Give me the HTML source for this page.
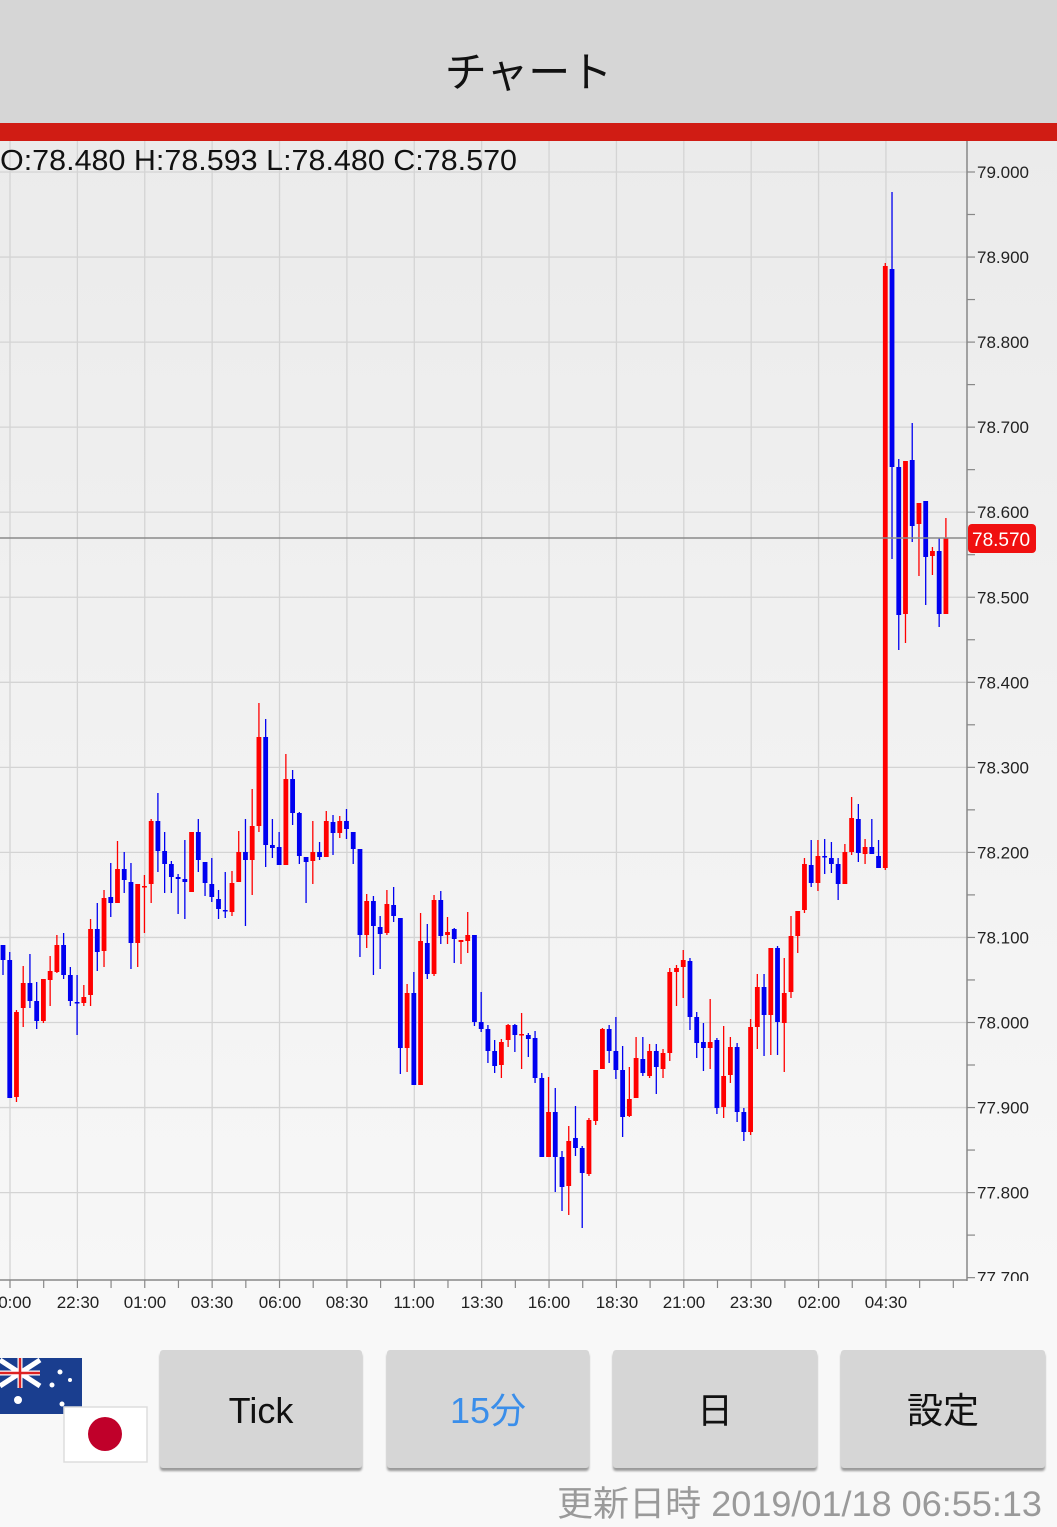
<!DOCTYPE html>
<html><head><meta charset="utf-8"><style>
html,body{margin:0;padding:0;width:1057px;height:1527px;overflow:hidden;background:#f8f8f8;font-family:"Liberation Sans","Noto Sans CJK JP",sans-serif}
#hdr{position:absolute;left:0;top:0;width:1057px;height:123px;background:#d6d6d6}
#hdr div{position:absolute;left:0;width:1057px;top:44px;text-align:center;font-size:42px;line-height:52px;color:#111;font-family:"Noto Sans CJK JP",sans-serif}
#red{position:absolute;left:0;top:123px;width:1057px;height:18px;background:#d01c14}
svg{position:absolute;left:0;top:0}
.btn{position:absolute;top:1350px;height:118px;background:#d6d6d6;border-radius:3px;box-shadow:0 3px 2px #999;text-align:center;line-height:122px;font-size:36px;color:#111;font-family:"Liberation Sans","Noto Sans CJK JP",sans-serif}
</style></head><body>
<div id="hdr"><div>チャート</div></div>
<div id="red"></div>
<svg id="c" width="1057" height="1527" xmlns="http://www.w3.org/2000/svg">
<defs><linearGradient id="g" x1="0" y1="0" x2="0" y2="1"><stop offset="0" stop-color="#ebebeb"/><stop offset="1" stop-color="#f7f7f7"/></linearGradient>
<clipPath id="cp"><rect x="0" y="141" width="1057" height="1140"/></clipPath></defs>
<rect x="0" y="141" width="1057" height="1139" fill="url(#g)"/>
<g id="grid" stroke="#d4d4d4" stroke-width="1.3"></g>
<g id="cand"></g>
<line x1="0" y1="538" x2="967" y2="538" stroke="#8a8a8a" stroke-width="1.5"/>
<line x1="967" y1="141" x2="967" y2="1281" stroke="#888" stroke-width="1.5"/>
<line x1="0" y1="1280" x2="967" y2="1280" stroke="#888" stroke-width="1.5"/>
<g id="ax" stroke="#888" stroke-width="1.2"></g>
<g id="yl" font-size="17" fill="#222" font-family="Liberation Sans, sans-serif" clip-path="url(#cp)"></g>
<g id="xl" font-size="17" fill="#222" font-family="Liberation Sans, sans-serif" text-anchor="middle">
<text x="10" y="1308">20:00</text><text x="78" y="1308">22:30</text><text x="145" y="1308">01:00</text><text x="212" y="1308">03:30</text><text x="280" y="1308">06:00</text><text x="347" y="1308">08:30</text><text x="414" y="1308">11:00</text><text x="482" y="1308">13:30</text><text x="549" y="1308">16:00</text><text x="617" y="1308">18:30</text><text x="684" y="1308">21:00</text><text x="751" y="1308">23:30</text><text x="819" y="1308">02:00</text><text x="886" y="1308">04:30</text>
</g>
<rect x="968" y="524" width="68" height="29" rx="4" fill="#f01010"/>
<text x="972" y="546" font-size="19" fill="#fff" font-family="Liberation Sans, sans-serif">78.570</text>
<text x="0" y="170" font-size="29" fill="#111" font-family="Liberation Sans, sans-serif" textLength="517" lengthAdjust="spacingAndGlyphs">O:78.480 H:78.593 L:78.480 C:78.570</text>
<text x="557" y="1516" font-size="35" fill="#9a9a9a" font-family="Liberation Sans, Noto Sans CJK JP, sans-serif" textLength="485" lengthAdjust="spacingAndGlyphs">更新日時 2019/01/18 06:55:13</text>
<rect x="0" y="1358" width="82" height="56" fill="#1a3e8f"/>
<g stroke="#fff" stroke-width="5"><line x1="0" y1="1360" x2="40" y2="1386"/><line x1="40" y1="1360" x2="0" y2="1386"/><line x1="20" y1="1358" x2="20" y2="1388"/><line x1="0" y1="1373" x2="40" y2="1373"/></g>
<g stroke="#d22" stroke-width="2.5"><line x1="20" y1="1358" x2="20" y2="1388"/><line x1="0" y1="1373" x2="40" y2="1373"/></g>
<g fill="#fff"><circle cx="18" cy="1400" r="4"/><circle cx="60" cy="1372" r="2.5"/><circle cx="70" cy="1380" r="2"/><circle cx="52" cy="1385" r="2.5"/><circle cx="62" cy="1404" r="2.5"/></g>
<rect x="64" y="1407" width="83" height="55" fill="#fff" stroke="#ddd" stroke-width="1.5"/>
<circle cx="105" cy="1434" r="17" fill="#c0002a"/>
</svg>
<div class="btn" style="left:160px;width:202px">Tick</div>
<div class="btn" style="left:387px;width:202px;color:#3a8eea">15分</div>
<div class="btn" style="left:613px;width:204px">日</div>
<div class="btn" style="left:841px;width:204px">設定</div>
<script>
var NS="http://www.w3.org/2000/svg";
function el(p,t,a){var e=document.createElementNS(NS,t);for(var k in a)e.setAttribute(k,a[k]);p.appendChild(e);return e;}
var grid=document.getElementById('grid'),ax=document.getElementById('ax'),yl=document.getElementById('yl');
var labels=["79.000","78.900","78.800","78.700","78.600","78.500","78.400","78.300","78.200","78.100","78.000","77.900","77.800","77.700"];
for(var i=0;i<14;i++){var y=172+85.05*i;
 if(i<13)el(grid,'line',{x1:0,y1:y,x2:967,y2:y});
 el(ax,'line',{x1:967,y1:y,x2:975,y2:y});
 if(i<13)el(ax,'line',{x1:967,y1:y+42.5,x2:975,y2:y+42.5});
 var t=el(yl,'text',{x:977,y:y+6});t.textContent=labels[i];}
for(var j=0;j<14;j++){var x=10+67.38*j;el(grid,'line',{x1:x,y1:141,x2:x,y2:1280});}
for(var j=0;j<29;j++){var x=10+33.69*j;if(x<967)el(ax,'line',{x1:x,y1:1280,x2:x,y2:1288});}
var D=[
[0,945,960,945,975],[0,960,1098,952,1098],[1,1012,1097,1010,1102],[1,983,1008,966,1027],[0,983,1001,954,1008],[0,1001,1021,982,1029],[1,979,1021,979,1023],[1,971,980,956,1006],[1,945,972,935,973],[0,945,975,933,979],
[0,975,1001,967,1006],[0,1002,1003,975,1035],[1,997,1003,985,1006],[1,929,995,919,1006],[0,929,952,903,971],[1,898,951,890,967],[0,897,903,863,917],[1,869,903,841,903],[0,869,880,852,893],[0,882,943,863,969],
[1,884,943,884,967],[1,886,887,875,933],[1,821,884,819,903],[0,821,851,793,872],[0,851,864,832,893],[0,864,877,861,893],[0,877,879,874,914],[0,879,882,840,919],[1,832,892,832,892],[0,832,860,819,872],
[0,862,883,862,896],[0,884,897,858,902],[0,899,909,890,919],[0,910,911,872,918],[1,883,912,871,916],[1,852,882,831,882],[0,852,860,819,926],[1,826,860,789,895],[1,737,826,703,832],[0,737,845,719,867],
[0,845,848,819,858],[0,847,865,832,865],[1,779,865,754,865],[0,779,813,770,825],[0,813,856,812,864],[0,857,862,857,903],[1,852,861,821,884],[0,852,857,842,860],[1,821,857,811,857],[0,822,833,815,855],
[1,821,833,816,838],[0,821,829,809,839],[0,832,849,832,864],[0,849,935,849,957],[1,901,935,894,948],[0,901,926,896,975],[0,927,934,916,969],[1,904,933,890,935],[0,905,916,887,922],[0,918,1048,918,1074],
[1,993,1048,984,1072],[0,993,1085,972,1085],[1,941,1085,913,1085],[0,943,974,924,979],[1,900,974,895,976],[0,900,936,891,944],[1,932,935,917,944],[0,929,939,928,963],[1,940,942,940,964],[1,935,941,912,953],
[0,935,1022,935,1026],[0,1022,1029,992,1032],[0,1029,1051,1025,1063],[0,1051,1066,1040,1073],[1,1042,1065,1039,1078],[1,1025,1040,1024,1047],[0,1025,1035,1024,1052],[1,1034,1035,1013,1069],[0,1035,1039,1033,1057],[0,1038,1078,1031,1083],
[0,1078,1157,1073,1157],[1,1112,1157,1077,1157],[0,1112,1157,1088,1192],[0,1157,1187,1151,1211],[1,1141,1186,1126,1215],[0,1138,1148,1106,1156],[0,1148,1173,1146,1228],[1,1120,1174,1118,1176],[1,1070,1121,1070,1125],[1,1029,1069,1028,1069],
[0,1029,1051,1025,1063],[0,1051,1070,1017,1079],[0,1070,1117,1046,1137],[1,1099,1116,1067,1117],[1,1058,1098,1037,1098],[0,1059,1073,1037,1076],[1,1051,1076,1044,1078],[0,1051,1067,1044,1094],[1,1053,1069,1049,1078],[1,972,1053,968,1061],
[1,968,972,965,1006],[1,960,967,950,998],[0,961,1017,958,1030],[0,1017,1043,1012,1058],[0,1042,1048,1023,1071],[1,1042,1048,999,1069],[0,1040,1108,1038,1114],[1,1076,1107,1026,1118],[1,1047,1075,1037,1083],[0,1047,1112,1043,1122],
[0,1112,1132,1108,1141],[1,1027,1132,1019,1135],[1,987,1027,974,1049],[0,987,1015,974,1056],[1,948,1015,948,1055],[0,948,1022,946,1055],[1,993,1023,958,1072],[1,936,992,916,998],[1,911,936,911,953],[1,864,910,858,913],
[0,865,883,840,887],[1,856,883,840,891],[0,856,857,839,874],[0,858,864,842,873],[0,864,884,858,900],[1,852,884,844,884],[1,818,852,797,855],[0,819,853,804,862],[1,847,854,839,864],[0,847,854,819,854],
[0,856,868,840,868],[1,266,868,263,870],[0,269,467,192,559],[0,467,615,459,650],[1,461,614,461,643],[0,460,526,423,542],[1,503,524,503,576],[0,501,557,501,605],[1,551,556,547,575],[0,551,614,538,627],
[1,538,614,518,614]];
var g=document.getElementById('cand');
for(var i=0;i<D.length;i++){var d=D[i],x=3+6.735*i,c=d[0]?'#ff0000':'#0000f0';
 el(g,'line',{x1:x,y1:d[3],x2:x,y2:d[4],stroke:c,'stroke-width':1.3});
 var h=Math.max(d[2]-d[1],1.5);
 el(g,'rect',{x:x-2.4,y:d[1],width:4.8,height:h,fill:c});}
</script>
</body></html>
